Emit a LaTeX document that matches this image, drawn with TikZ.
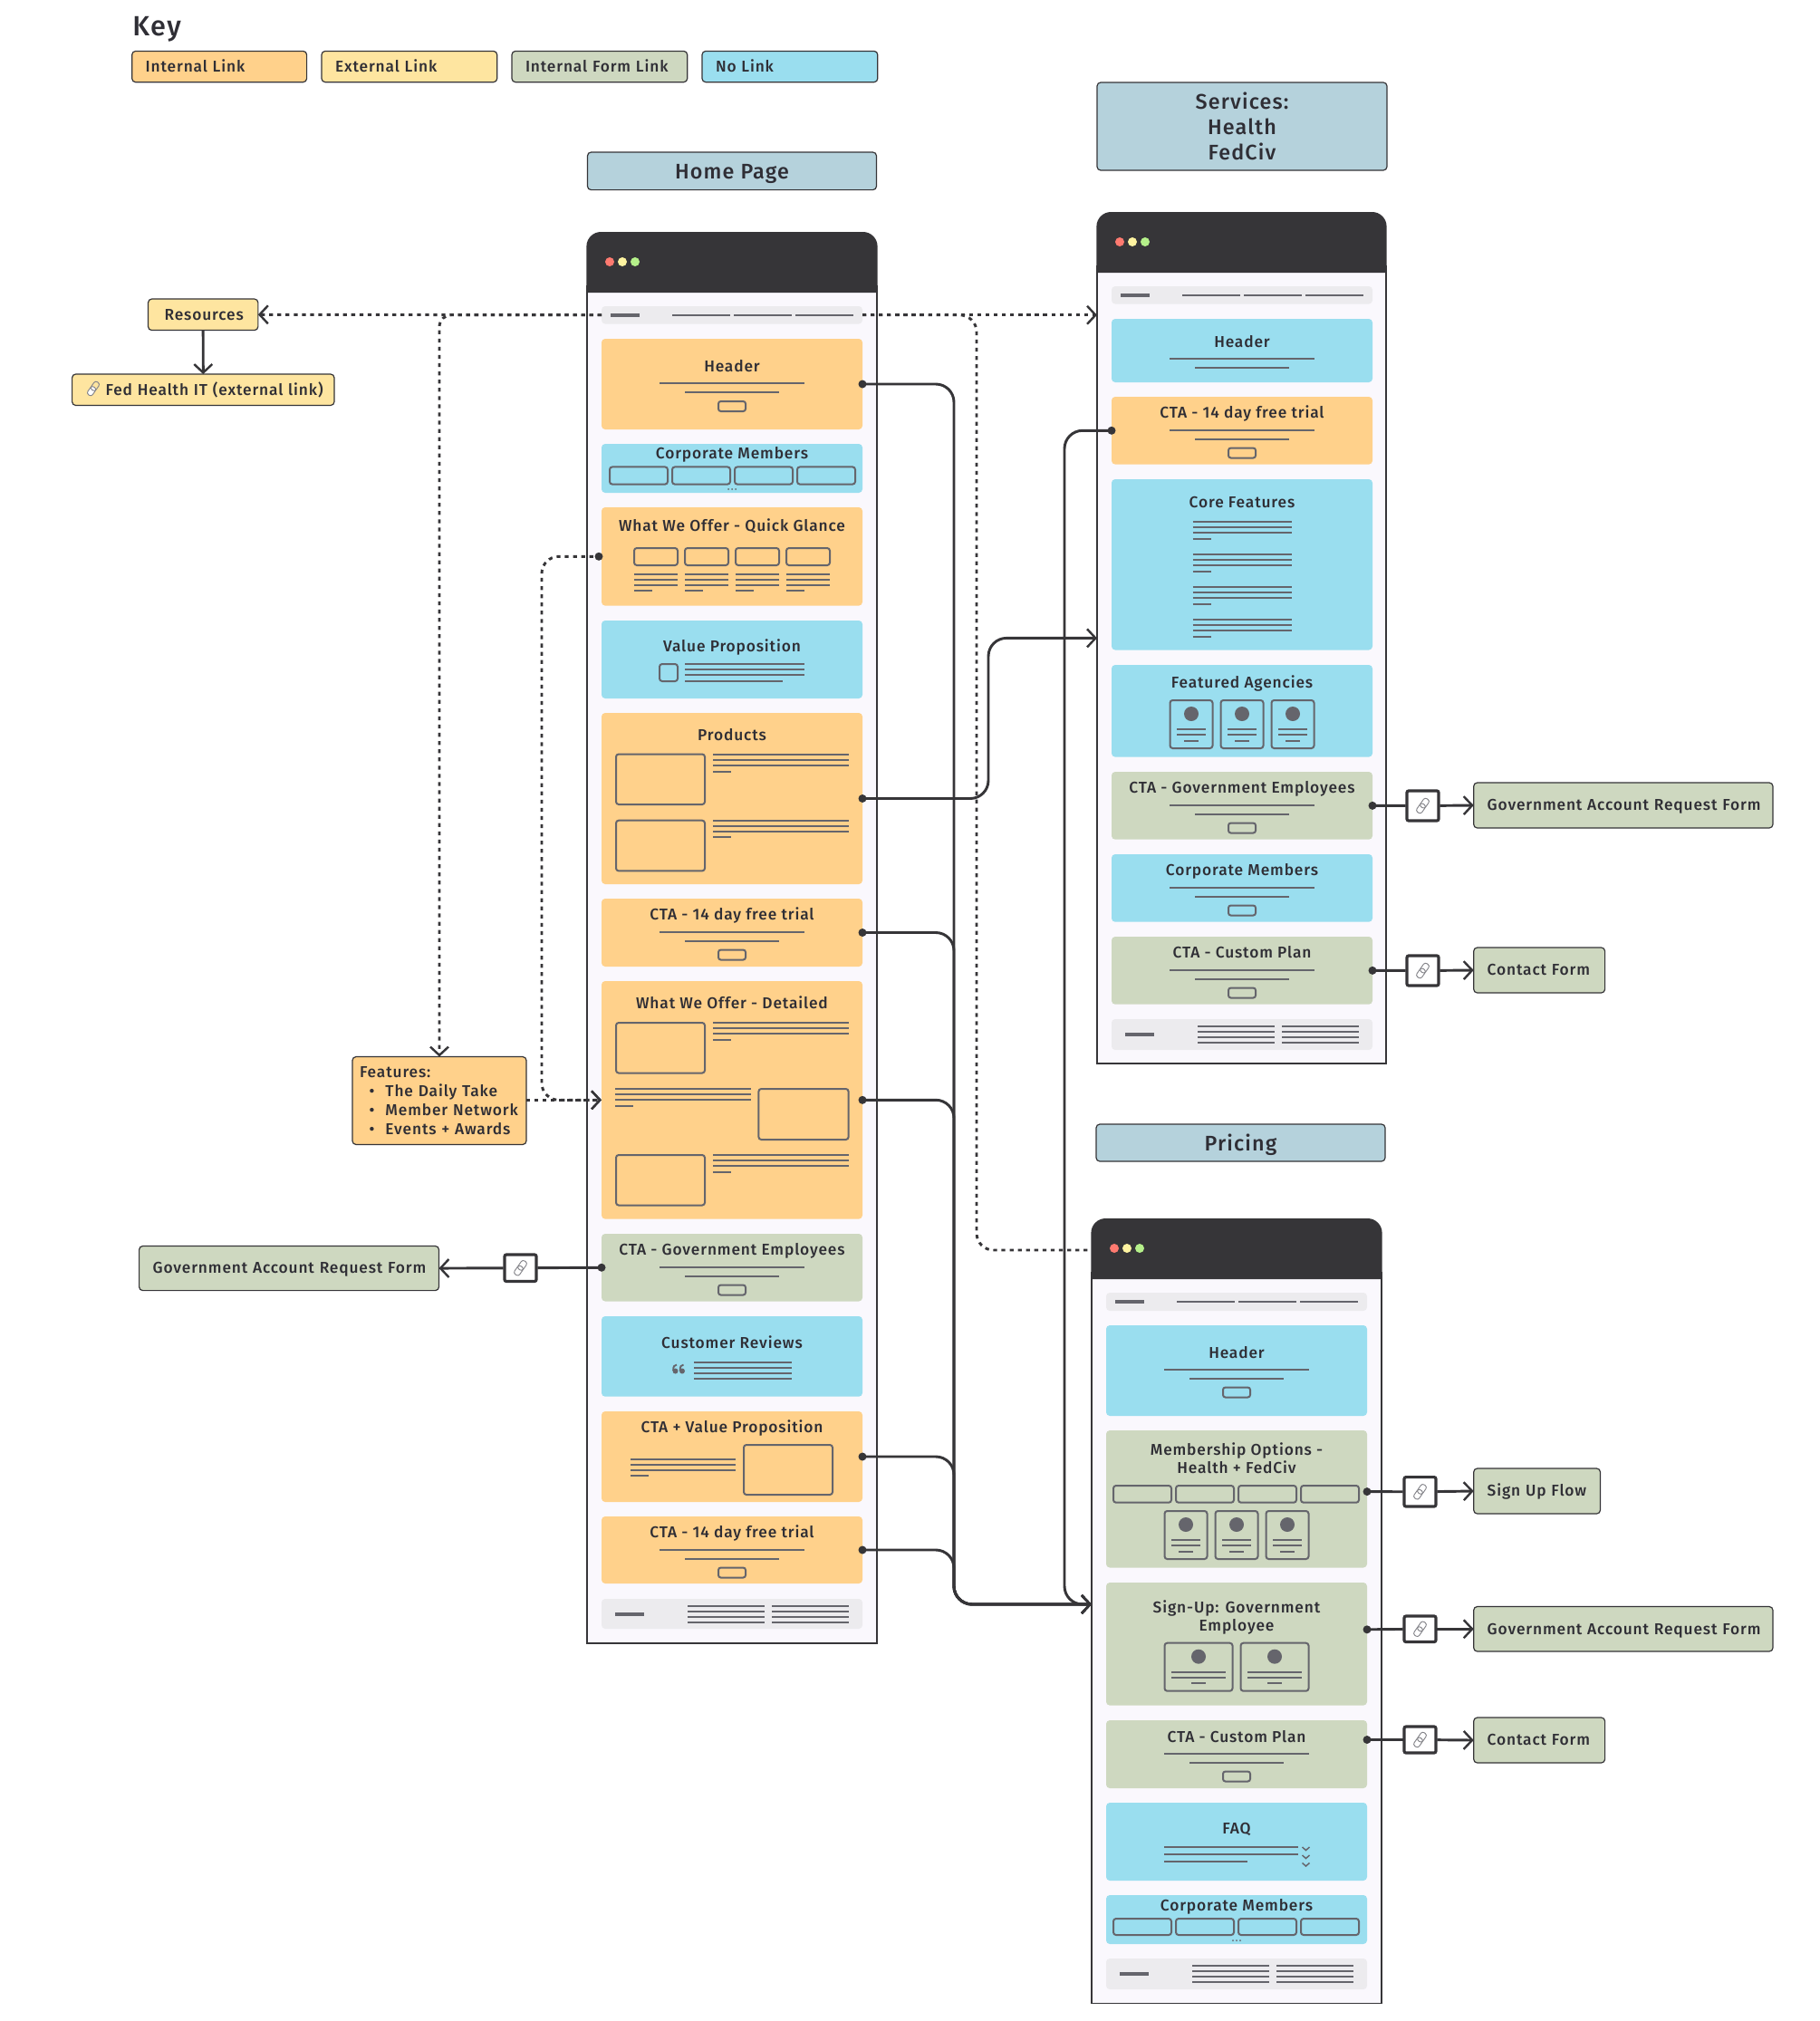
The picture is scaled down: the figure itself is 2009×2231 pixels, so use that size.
\documentclass[tikz,border=0pt]{standalone}
\usepackage{fontspec}
\setmainfont{Fira Sans}[UprightFont=* Medium,LetterSpace=5]
\usepackage{tikz}
\usepackage{xcolor}
\usetikzlibrary{calc}
\usetikzlibrary{arrows.meta}

\definecolor{inkdark}{HTML}{363538}
\definecolor{inktext}{HTML}{2F2E35}
\definecolor{inkbit}{HTML}{65656C}
\definecolor{pageback}{HTML}{FAF8FD}
\definecolor{navback}{HTML}{ECEBEE}
\definecolor{linkorange}{HTML}{FFD18B}
\definecolor{linkyellow}{HTML}{FEE5A0}
\definecolor{linkgreen}{HTML}{CED8C0}
\definecolor{linkblue}{HTML}{9ADEEF}
\definecolor{barblue}{HTML}{B5D2DC}
\definecolor{dotred}{HTML}{FF7A70}
\definecolor{dotyellow}{HTML}{FFF3A0}
\definecolor{dotgreen}{HTML}{B5F08A}

\tikzset{
  sec/.style={inner sep=0pt,outer sep=0pt,rounded corners=3pt},
  secorange/.style={sec,fill=linkorange},
  secblue/.style={sec,fill=linkblue},
  secgreen/.style={sec,fill=linkgreen},
  secnav/.style={sec,fill=navback},
  seclabel/.style={anchor=base,text=inktext,font=\fontsize{13}{15}\selectfont},
  keybox/.style={draw=inkdark,line width=.9pt,rounded corners=3pt,outer sep=0pt,inner ysep=0pt,inner xsep=11.25pt,text height=10.5pt,text depth=1.8pt,text=inktext,font=\fontsize{13}{15.9}\selectfont},
  barbox/.style={draw=inkdark,fill=barblue,line width=.9pt,rounded corners=3pt,outer sep=0pt,inner sep=0pt,text=inktext,align=center,font=\fontsize{17.5}{21}\selectfont},
  winbody/.style={inner sep=0pt,outer sep=0pt},
  bit/.style={draw=inkbit,line width=1.5pt},
  linkbox/.style={draw=inkdark,fill=white,line width=2.4pt,rounded corners=1.5pt,inner sep=0pt,outer sep=1pt},
  wire/.style={draw=inkdark,line width=2.2pt},
  wirearrow/.style={wire,-{Straight Barb[length=7pt,width=15pt,line width=1.8pt]}},
  dotwire/.style={draw=inkdark,line width=2.2pt,dash pattern=on 3.2pt off 3.6pt},
  dotarrow/.style={dotwire,-{Straight Barb[length=7pt,width=15pt,line width=1.8pt]}},
  chainicon/.pic={
    \begin{scope}[rotate=55]
      \draw[draw=inkbit!80,line width=0.7pt,fill=white,rounded corners=2pt] (-9,-3.4) rectangle (2,3.4);
      \draw[draw=inkbit!80,line width=0.7pt,rounded corners=2pt] (-2,-3.4) rectangle (9,3.4);
    \end{scope}
  }
}

% section block with its title
\newcommand{\secbox}[8]{
  \node[#2,minimum width={(#5-#3)*.75pt},minimum height={(#6-#4)*.75pt}] (#1) at ({(#3+#5)/2},{(#4+#6)/2}) {};
  \node[seclabel] (#1t) at ({(#3+#5)/2},#7) {#8};
}
% browser window
\newcommand{\window}[5]{
  \node[winbody,minimum width={(#4-#2)*.75pt},minimum height={(#5-#3)*.75pt}] (#1) at ({(#2+#4)/2},{(#3+#5)/2}) {};
  \draw[inkdark,fill=pageback,line width=.9pt] (#2,#3+60) rectangle (#4,#5);
  \fill[inkdark] (#2-.6,#3+67) [rounded corners=12pt] -- (#2-.6,#3) -- (#4+.6,#3) [sharp corners] -- (#4+.6,#3+67) -- cycle;
  \fill[dotred] (#2+25,#3+33) circle (5);
  \fill[dotyellow] (#2+39,#3+33) circle (5);
  \fill[dotgreen] (#2+53,#3+33) circle (5);
}
\newcommand{\keynode}[7]{
  \node[keybox,fill=#2,text width={(#5-#3-30)*.75pt},minimum height={(#6-#4)*.75pt}] (#1) at ({(#3+#5)/2},{(#4+#6)/2}) {\mbox{#7}};
}
\newcommand{\linknode}[5]{
  \node[linkbox,minimum width={(#4-#2)*.75pt},minimum height={(#5-#3)*.75pt}] (#1) at ({(#2+#4)/2},{(#3+#5)/2}) {};
  \pic at (#1) {chainicon};
}
\newcommand{\navbits}[2]{
  \draw[bit,line width=3pt] (#1+10,#2) -- (#1+42,#2);
  \foreach \a/\b in {78/142,146/210,214/278} \draw[bit] (#1+\a,#2) -- (#1+\b,#2);
}
\newcommand{\footbits}[2]{
  \draw[bit,line width=3pt] (#1+15,#2) -- (#1+47,#2);
  \foreach \d in {-9,-3,3,9} {
    \draw[bit] (#1+95,#2+\d) -- (#1+180,#2+\d);
    \draw[bit] (#1+188,#2+\d) -- (#1+273,#2+\d);
  }
}
\newcommand{\twolines}[3]{
  \draw[bit] (#1-80,#2) -- (#1+80,#2);
  \draw[bit] (#1-52,#3) -- (#1+52,#3);
}
\newcommand{\btn}[2]{\draw[bit,rounded corners=2pt] (#1-15,#2-5.5) rectangle (#1+15,#2+5.5);}
\newcommand{\txt}[3]{
  \foreach \d in {0,6,12} \draw[bit] (#1,#3+\d) -- (#2,#3+\d);
  \draw[bit] (#1,#3+18.5) -- (#1+20,#3+18.5);
}
\newcommand{\frm}[4]{\draw[bit,rounded corners=2.2pt] (#1,#2) rectangle (#3,#4);}
\newcommand{\fourbox}[3]{
  \foreach \a in {0,69,138,207} {\frm{#1+\a}{#2}{#1+\a+64}{#3}}
}
\newcommand{\card}[4]{
  \frm{#1-#3}{#2}{#1+#3}{#2+53}
  \fill[inkbit] (#1,#2+15) circle (8);
  \draw[bit] (#1-#4,#2+32) -- (#1+#4,#2+32);
  \draw[bit] (#1-#4,#2+38) -- (#1+#4,#2+38);
  \draw[bit] (#1-8,#2+44.5) -- (#1+8,#2+44.5);
}

\begin{document}
\begin{tikzpicture}[x=.75pt,y=-.75pt]
\useasboundingbox (0,0) rectangle (2009,2231);
\fill[white] (0,0) rectangle (2009,2231);

% key
\node[anchor=base west,inner sep=0pt,text=inktext,font=\fontsize{23}{26}\selectfont] (keyTitle) at (146,39) {Key};
\keynode{keyInternal}{linkorange}{145.7}{56.4}{338.6}{90.7}{Internal Link}
\keynode{keyExternal}{linkyellow}{355}{56.4}{548.7}{90.7}{External Link}
\keynode{keyForm}{linkgreen}{565}{56.4}{758.7}{90.7}{Internal Form Link}
\keynode{keyNone}{linkblue}{775}{56.4}{968.8}{90.7}{No Link}

% page titles
\node[barbox,minimum width=239.25pt,minimum height=31.2pt] (homeBar) at (808,188.8) {\raisebox{-6.2pt}[0pt][0pt]{Home Page}};
\node[barbox,minimum width=240pt,minimum height=72.75pt] (servBar) at (1371,139.5) {Services:\\Health\\FedCiv};
\node[barbox,minimum width=239.25pt,minimum height=30.75pt] (priceBar) at (1369.5,1261.5) {\raisebox{-6.4pt}[0pt][0pt]{Pricing}};

% home page
\window{hpWin}{648}{256}{968}{1814}
\secbox{hpNav}{secnav}{664}{338}{952}{357.5}{351}{}
\navbits{664}{347.5}
\secbox{hpHeader}{secorange}{664}{374}{952}{474}{410}{Header}
\twolines{808}{423}{433}\btn{808}{448.5}
\secbox{hpCorp}{secblue}{664}{490}{952}{544}{506}{Corporate Members}
\fourbox{673}{515.4}{534.6}
\foreach \a in {-4,0,4} \fill[inkbit] (808+\a,540) circle (1);
\secbox{hpGlance}{secorange}{664}{560}{952}{668.6}{586.4}{What We Offer - Quick Glance}
\foreach \a in {700,756,812,868} {
  \frm{\a}{605}{\a+48}{624}
  \txt{\a}{\a+48}{633.6}
}
\secbox{hpValue}{secblue}{664}{685}{952}{771}{719.6}{Value Proposition}
\frm{728}{733}{748}{752}
\txt{756}{888}{733}
\draw[bit] (756,751.5) -- (864,751.5);
\secbox{hpProducts}{secorange}{664}{787}{952}{976}{817}{Products}
\frm{680}{832.5}{778}{888}\txt{787}{937}{833}
\frm{680}{905.7}{778}{961.4}\txt{787}{937}{905.7}
\secbox{hpCtaA}{secorange}{664}{992}{952}{1067}{1015}{CTA - 14 day free trial}
\twolines{808}{1028.6}{1038.6}\btn{808}{1054}
\secbox{hpDetailed}{secorange}{664}{1083}{952}{1345.6}{1113.8}{What We Offer - Detailed}
\frm{680}{1129}{778}{1184.5}\txt{787}{937}{1129.4}
\txt{679}{829}{1202}\frm{837.4}{1202}{936.6}{1258}
\frm{680}{1275}{778}{1330.5}\txt{787}{937}{1275}
\secbox{hpCtaGov}{secgreen}{664}{1362}{952}{1436.5}{1385.6}{CTA - Government Employees}
\twolines{808}{1399}{1409}\btn{808}{1424}
\secbox{hpReviews}{secblue}{664}{1453}{952}{1541.7}{1488.4}{Customer Reviews}
\foreach \a in {745.5,753} {
  \fill[inkbit] (\a,1513.5) circle (3);
  \draw[inkbit,line width=1.4pt] (\a-2.4,1513) .. controls (\a-2.4,1508) and (\a-1,1507) .. (\a+1.5,1506.5);
}
\foreach \d in {0,6,12,18} \draw[bit] (766,1504+\d) -- (874,1504+\d);
\secbox{hpCtaVal}{secorange}{664}{1558}{952}{1658}{1581.6}{CTA + Value Proposition}
\txt{696}{812}{1610.6}\frm{821}{1595}{919}{1650}
\secbox{hpCtaB}{secorange}{664}{1674}{952}{1748}{1697.3}{CTA - 14 day free trial}
\twolines{808}{1711}{1720.7}\btn{808}{1736}
\secbox{hpFoot}{secnav}{664}{1765}{952}{1798}{1781}{}
\footbits{664}{1781.5}

% services
\window{svWin}{1211}{234}{1530}{1174}
\secbox{svNav}{secnav}{1227}{316}{1515}{335.5}{330}{}
\navbits{1227}{325.7}
\secbox{svHeader}{secblue}{1227}{352}{1515}{422}{383}{Header}
\twolines{1371}{396.4}{406}
\secbox{svCta}{secorange}{1227}{438}{1515}{512.6}{461.6}{CTA - 14 day free trial}
\twolines{1371}{474.6}{485}\btn{1371}{500}
\secbox{svCore}{secblue}{1227}{529}{1515}{717.5}{560.4}{Core Features}
\foreach \rowy in {576,612,648,684} {\txt{1316.5}{1426}{\rowy}}
\secbox{svAgency}{secblue}{1227}{734}{1515}{835.6}{759.7}{Featured Agencies}
\foreach \a in {1315,1371,1427} {\card{\a}{773}{23.5}{16}}
\secbox{svCtaGov}{secgreen}{1227}{852}{1515}{926.7}{875}{CTA - Government Employees}
\twolines{1371}{889}{899}\btn{1371}{914}
\secbox{svCorp}{secblue}{1227}{943}{1515}{1017.7}{966}{Corporate Members}
\twolines{1371}{980}{990}\btn{1371}{1005}
\secbox{svCustom}{secgreen}{1227}{1034}{1515}{1108.7}{1057}{CTA - Custom Plan}
\twolines{1371}{1071}{1081}\btn{1371}{1096}
\secbox{svFoot}{secnav}{1227}{1125}{1515}{1159}{1145}{}
\footbits{1227}{1142}

% pricing
\window{pcWin}{1205}{1345}{1525}{2211.5}
\secbox{pcNav}{secnav}{1221}{1427}{1509}{1447}{1441}{}
\navbits{1221}{1437}
\secbox{pcHeader}{secblue}{1221}{1463}{1509}{1563}{1499}{Header}
\twolines{1365}{1512}{1522}\btn{1365}{1537}
\secbox{pcMember}{secgreen}{1221}{1579}{1509}{1730.5}{1606}{Membership Options -}
\node[seclabel] (pcMemberB) at (1365,1626.5) {Health + FedCiv};
\fourbox{1229}{1640}{1658.7}
\foreach \a in {1309,1365,1421} {\card{\a}{1668}{23.5}{16}}
\secbox{pcSignup}{secgreen}{1221}{1747}{1509}{1882.6}{1780}{Sign-Up: Government}
\node[seclabel] (pcSignupB) at (1365,1800.5) {Employee};
\foreach \a in {1323,1407} {\card{\a}{1813.7}{37.5}{30}}
\secbox{pcCustom}{secgreen}{1221}{1899}{1509}{1974}{1923}{CTA - Custom Plan}
\twolines{1365}{1936}{1946}\btn{1365}{1961}
\secbox{pcFaq}{secblue}{1221}{1990}{1509}{2076}{2024}{FAQ}
\draw[bit] (1285,2038.7) -- (1433,2038.7);
\draw[bit] (1285,2046.7) -- (1433,2046.7);
\draw[bit] (1285,2055) -- (1377,2055);
\foreach \d in {2039,2048,2056.5} \draw[bit,line width=1.1pt] (1437.5,\d) -- (1441.5,\d+3.5) -- (1445.5,\d);
\secbox{pcCorp}{secblue}{1221}{2092}{1509}{2146}{2109}{Corporate Members}
\fourbox{1229}{2118}{2136}
\foreach \a in {-4,0,4} \fill[inkbit] (1365+\a,2142) circle (1);
\secbox{pcFoot}{secnav}{1221}{2162}{1509}{2196}{2180}{}
\footbits{1221}{2179}

% outside boxes
\node[keybox,fill=linkyellow,minimum width=91pt,minimum height=25.9pt,inner xsep=0pt] (resources) at (224.2,347.3) {\kern1.5pt Resources};
\keynode{fedHealth}{linkyellow}{79.6}{413}{369}{447.5}{\hspace{16.5pt}Fed Health IT (external link)}
\pic[scale=.95] at (103,429) {chainicon};
\node[keybox,fill=linkorange,text width=132pt,minimum height=72.7pt,inner xsep=6pt,text height=,text depth=,align=left,anchor=center] (features) at (485,1215)
 {Features:\\\hspace{8pt}\textbullet\hspace{9pt}The Daily Take\\\hspace{8pt}\textbullet\hspace{9pt}Member Network\\\hspace{8pt}\textbullet\hspace{9pt}Events + Awards};
\keynode{hpForm}{linkgreen}{153.6}{1375.5}{484.5}{1424.6}{Government Account Request Form}
\keynode{svFormA}{linkgreen}{1626.7}{864}{1957}{914}{Government Account Request Form}
\keynode{svFormB}{linkgreen}{1626.7}{1046}{1771.6}{1096}{Contact Form}
\keynode{pcFormA}{linkgreen}{1626.7}{1621}{1766.5}{1671}{Sign Up Flow}
\keynode{pcFormB}{linkgreen}{1626.7}{1773.5}{1957}{1823}{Government Account Request Form}
\keynode{pcFormC}{linkgreen}{1626.7}{1896}{1771.6}{1946}{Contact Form}

% dotted links
\coordinate (featBend) at (485,347.5);
\coordinate (offerBend) at (598,1214.3);
\coordinate (priceBend) at (1078,1380);
\coordinate (priceEnd) at (1205,1380);
\draw[dotarrow] (hpNav.west) -- (resources.east);
\draw[dotarrow,rounded corners=10pt] (hpNav.west) -- (featBend) -- (features.north);
\draw[dotarrow] (hpNav.east) -- (svWin.west |- hpNav.east);
\draw[dotwire,rounded corners=14pt] (hpNav.east) -| (priceBend) -- (priceEnd);
\draw[dotarrow] (features.east |- hpDetailed.west) -- (hpDetailed.west);
\draw[dotarrow,rounded corners=14pt] (hpGlance.west) -| (offerBend) -- (hpDetailed.west);
\fill[inkdark] (hpGlance.west)++(-3,0) circle (4.5);

% solid links
\coordinate (trunkEnd) at (1053,1771);
\coordinate (sideEnd) at (1175,1771);
\coordinate (priceIn) at (1205,1771);
\coordinate (prodBend) at (1091,704.4);
\coordinate (prodIn) at (1211,704.4);
\draw[wirearrow] (resources.south) -- (fedHealth.north);
\foreach \a in {hpHeader,hpCtaA,hpDetailed,hpCtaVal,hpCtaB} {
  \draw[wirearrow,rounded corners=15pt] (\a.east) -| (trunkEnd) -- (priceIn);
  \fill[inkdark] (\a.east) circle (4.5);
}
\draw[wirearrow,rounded corners=15pt] (hpProducts.east) -| (prodBend) -- (prodIn);
\fill[inkdark] (hpProducts.east) circle (4.5);
\draw[wirearrow,rounded corners=15pt] (svCta.west) -| (sideEnd) -- (priceIn);
\fill[inkdark] (svCta.west) circle (4.5);

% form links
\coordinate (pcMemberDot) at (1509,1646.6);
\coordinate (pcSignupDot) at (1509,1798.8);
\coordinate (pcCustomDot) at (1509,1920.5);
\linknode{hpLink}{557}{1385}{592}{1414.5}
\linknode{svLinkA}{1553}{873}{1588}{906}
\linknode{svLinkB}{1553}{1055}{1588}{1088}
\linknode{pcLinkA}{1550}{1630.6}{1585}{1663}
\linknode{pcLinkB}{1550}{1784}{1585}{1812.5}
\linknode{pcLinkC}{1550}{1906}{1585}{1935}
\foreach \a/\b/\c in {hpCtaGov.west/hpLink/hpForm.east,svCtaGov.east/svLinkA/svFormA.west,svCustom.east/svLinkB/svFormB.west,pcMemberDot/pcLinkA/pcFormA.west,pcSignupDot/pcLinkB/pcFormB.west,pcCustomDot/pcLinkC/pcFormC.west} {
  \draw[wire] (\a) -- (\b);
  \draw[wirearrow] (\b) -- (\c);
  \fill[inkdark] (\a) circle (4.5);
}

\end{tikzpicture}
\end{document}
